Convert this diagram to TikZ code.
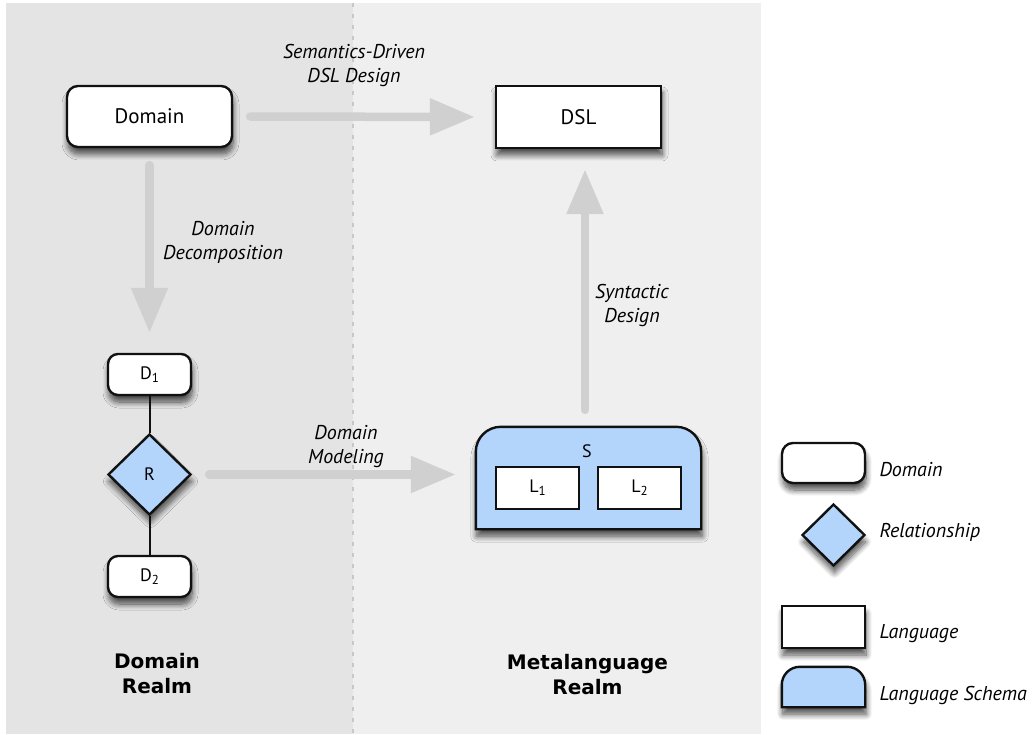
\documentclass[tikz,border=0pt]{standalone}
\usepackage{fontspec}
\setmainfont{PT Sans}
\newfontfamily\realmfont{DejaVu Sans}
\usetikzlibrary{arrows.meta,shapes.geometric,shadows.blur,calc}
\definecolor{bgL}{HTML}{E4E4E4}
\definecolor{bgR}{HTML}{EFEFEF}
\definecolor{arr}{HTML}{D0D0D0}
\definecolor{dashc}{HTML}{C8C8C8}
\definecolor{blueF}{HTML}{B3D5FB}
\definecolor{ink}{HTML}{111111}
\newcommand{\subdig}[1]{\raisebox{-0.3ex}{\fontsize{13}{13}\selectfont #1}}
\tikzset{
  shad/.style={blur shadow={shadow xshift=1pt, shadow yshift=-7pt, shadow blur radius=6pt, shadow blur steps=10, shadow opacity=70}},
  shapeline/.style={draw=ink, line width=2.4pt},
  dombox/.style={shapeline, shad, fill=white, rounded corners=11pt, inner sep=0pt},
  langbox/.style={shapeline, shad, fill=white, inner sep=0pt},
  relshape/.style={shapeline, shad, fill=blueF, diamond, inner sep=0pt},
  bigtxt/.style={font=\fontsize{21}{25}\selectfont},
  smalltxt/.style={font=\fontsize{18}{22}\selectfont},
  lbl/.style={font=\itshape\fontsize{20}{24}\selectfont, align=center, anchor=base},
  leglbl/.style={font=\itshape\fontsize{20}{24}\selectfont, anchor=base west},
  realm/.style={font=\realmfont\bfseries\fontsize{20}{25}\selectfont, align=center, anchor=base},
  flow/.style={draw=arr, line width=8.5pt, line cap=round, -{Triangle[length=45pt,width=35pt]}, shorten <=17pt, shorten >=20pt},
  link/.style={draw=ink, line width=2pt}
}
\begin{document}
\begin{tikzpicture}[x=1pt,y=-1pt]
\useasboundingbox (0,0) rectangle (1034,735);
% panels
\fill[bgL] (6,3) rectangle (353,734);
\fill[bgR] (353,3) rectangle (761,734);
\draw[dashc, line width=1.6pt, dash pattern=on 4pt off 7pt] (353,3) -- (353,734);

% main nodes
\node[dombox, bigtxt, minimum width=165pt, minimum height=61pt] (Domain) at (149.5,116.5) {Domain};
\node[langbox, bigtxt, minimum width=165pt, minimum height=62pt] (DSL) at (578.5,117) {DSL};
\node[dombox, smalltxt, rounded corners=10pt, minimum width=83pt, minimum height=41pt] (D1) at (149.5,374.5) {D\subdig{1}};
\node[relshape, smalltxt, minimum width=83pt, minimum height=81pt] (R) at (149.5,474.5) {R};
\node[dombox, smalltxt, rounded corners=10pt, minimum width=83pt, minimum height=41pt] (D2) at (149.5,576.5) {D\subdig{2}};

% schema S
\node[minimum width=225pt, minimum height=102pt, inner sep=0pt] (S) at (588.5,478) {};
\draw[shapeline, shad, fill=blueF] (S.south west) -- ([yshift=-25pt]S.north west)
  arc[start angle=180, end angle=270, radius=25] -- ([xshift=-25pt]S.north east)
  arc[start angle=270, end angle=360, radius=25] -- (S.south east) -- cycle;
\node[smalltxt, anchor=base] (Slabel) at (587,457) {S};
\node[draw=ink, line width=2.2pt, fill=white, smalltxt, minimum width=83pt, minimum height=42pt, inner sep=0pt] (L1) at (537.5,488) {L\subdig{1}};
\node[draw=ink, line width=2.2pt, fill=white, smalltxt, minimum width=83pt, minimum height=42pt, inner sep=0pt] (L2) at (639.5,488) {L\subdig{2}};
\coordinate (Sout) at ($(S.north)+(-3.5,0)$);

% links
\draw[link] (D1) -- (R);
\draw[link] (R) -- (D2);

% flows
\draw[flow] (Domain.east) -- (DSL.west);
\draw[flow] (Domain.south) -- (D1.north);
\draw[flow] (R.east) -- (R.east -| S.west);
\draw[flow] (Sout) -- (Sout |- DSL.south);

% labels (base = last line)
\node[lbl] (tSem) at (354,83) {Semantics-Driven\\DSL Design};
\node[lbl] (tDec) at (223,260) {Domain\\Decomposition};
\node[lbl] (tMod) at (346,463) {Domain\\Modeling};
\node[lbl] (tSyn) at (632,323) {Syntactic\\Design};
\node[realm] (rDom) at (157,693) {Domain\\Realm};
\node[realm] (rMeta) at (587.5,694) {Metalanguage\\Realm};

% legend
\node[dombox, minimum width=83pt, minimum height=40pt] (legDom) at (823.5,463) {};
\node[relshape, minimum width=63pt, minimum height=62pt] (legRel) at (833.5,535) {};
\node[langbox, minimum width=83pt, minimum height=42pt] (legLang) at (823.5,627) {};
\node[minimum width=83pt, minimum height=40pt, inner sep=0pt] (legSch) at (823.5,687) {};
\draw[shapeline, shad, fill=blueF] (legSch.south west) -- ([yshift=-18pt]legSch.north west)
  arc[start angle=180, end angle=270, radius=18] -- ([xshift=-18pt]legSch.north east)
  arc[start angle=270, end angle=360, radius=18] -- (legSch.south east) -- cycle;
\node[leglbl] (tlDom) at (876,476) {Domain};
\node[leglbl] (tlRel) at (876,537) {Relationship};
\node[leglbl] (tlLang) at (876,638) {Language};
\node[leglbl] (tlSch) at (876,700) {Language Schema};
\end{tikzpicture}
\end{document}
